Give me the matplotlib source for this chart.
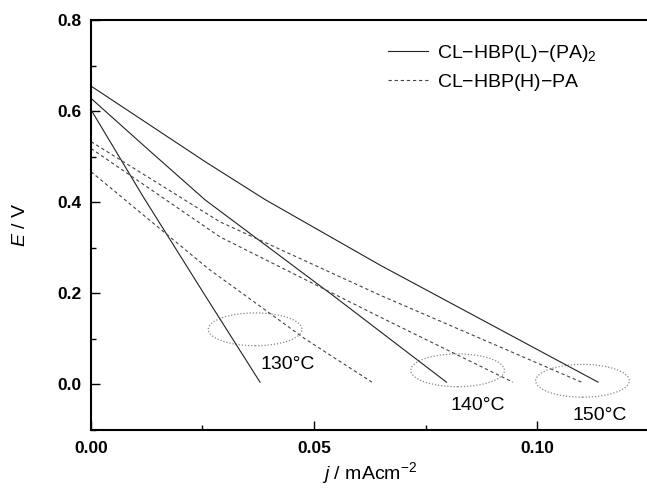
import numpy as np
import matplotlib
matplotlib.use('Agg')
import matplotlib.pyplot as plt
from matplotlib.patches import Ellipse
from matplotlib.ticker import MultipleLocator

plt.rcParams['font.family'] = ['Liberation Sans', 'DejaVu Sans']
plt.rcParams['mathtext.fontset'] = 'custom'
plt.rcParams['mathtext.rm'] = 'Liberation Sans'
plt.rcParams['mathtext.it'] = 'Liberation Sans:italic'

# CL-HBP(L)-(PA)2, solid lines
j_L130 = [0.0, 0.0117, 0.0256, 0.0379]
E_L130 = [0.603, 0.412, 0.195, 0.005]
j_L140 = [0.0, 0.0129, 0.0256, 0.0547, 0.0797]
E_L140 = [0.628, 0.515, 0.405, 0.192, 0.005]
j_L150 = [0.0, 0.0256, 0.0390, 0.0648, 0.1137]
E_L150 = [0.655, 0.489, 0.406, 0.262, 0.005]

# CL-HBP(H)-PA, dashed lines
j_H130 = [0.0, 0.0263, 0.0480, 0.0630]
E_H130 = [0.467, 0.254, 0.100, 0.005]
j_H140 = [0.0, 0.0289, 0.0648, 0.0946]
E_H140 = [0.518, 0.324, 0.148, 0.005]
j_H150 = [0.0, 0.0289, 0.0648, 0.1100]
E_H150 = [0.533, 0.357, 0.196, 0.005]

# dotted ellipses and temperature labels
ell_x = [0.0368, 0.0822, 0.1102]
ell_y = [0.121, 0.031, 0.008]
ell_w = 0.021
ell_h = 0.072
temp_labels = ['130°C', '140°C', '150°C']
temp_x = [0.0442, 0.0868, 0.1141]
temp_y = [0.044, -0.046, -0.068]

fig = plt.figure(figsize=(6.47, 4.90), dpi=100)
W, H = 647.0, 490.0
ax = fig.add_axes([91 / W, 60 / H, (648.5 - 91) / W, 410 / H])

for jj, ee in [(j_L130, E_L130), (j_L140, E_L140), (j_L150, E_L150)]:
    ln_L, = ax.plot(jj, ee, '-', color='#222222', lw=0.8)
for jj, ee in [(j_H130, E_H130), (j_H140, E_H140), (j_H150, E_H150)]:
    ln_H, = ax.plot(jj, ee, color='#444444', lw=0.8, ls=(0, (3, 2.5)))

for cx, cy in zip(ell_x, ell_y):
    ax.add_patch(Ellipse((cx, cy), ell_w, ell_h, fill=False, ec='#888888',
                         lw=0.9, ls=(0, (1, 1.5))))
for t, tx, ty in zip(temp_labels, temp_x, temp_y):
    ax.text(tx, ty, t, fontsize=14, ha='center', va='center')

ax.legend([ln_L, ln_H], [r'CL$-$HBP(L)$-$(PA)$_2$', r'CL$-$HBP(H)$-$PA'],
          loc='upper left', bbox_to_anchor=(0.532, 0.945), frameon=False,
          fontsize=14, handlelength=2.1, handletextpad=0.45,
          borderpad=0, borderaxespad=0, labelspacing=0.45)

ax.set_xlim(0, 0.125)
ax.set_ylim(-0.1, 0.8)
ax.xaxis.set_minor_locator(MultipleLocator(0.025))
ax.yaxis.set_minor_locator(MultipleLocator(0.1))
ax.set_xticks([0.0, 0.05, 0.10])
ax.set_xticklabels(['0.00', '0.05', '0.10'])
ax.set_yticks([0.0, 0.2, 0.4, 0.6, 0.8])
ax.set_yticklabels(['0.0', '0.2', '0.4', '0.6', '0.8'])
ax.tick_params(which='both', direction='in', width=1.0, labelsize=12.5)
ax.tick_params(which='major', length=6.5)
ax.tick_params(which='minor', length=3.6)
ax.tick_params(axis='x', pad=8)
ax.tick_params(axis='y', pad=7)
for lab in ax.get_xticklabels() + ax.get_yticklabels():
    lab.set_fontweight('bold')
for s in ax.spines.values():
    s.set_linewidth(1.5)

ax.set_xlabel(r'$j$ / mAcm$^{-2}$', fontsize=14, labelpad=3)
ax.set_ylabel(r'$E$ / V', fontsize=14, labelpad=20)

fig.savefig('out.png', dpi=100)
